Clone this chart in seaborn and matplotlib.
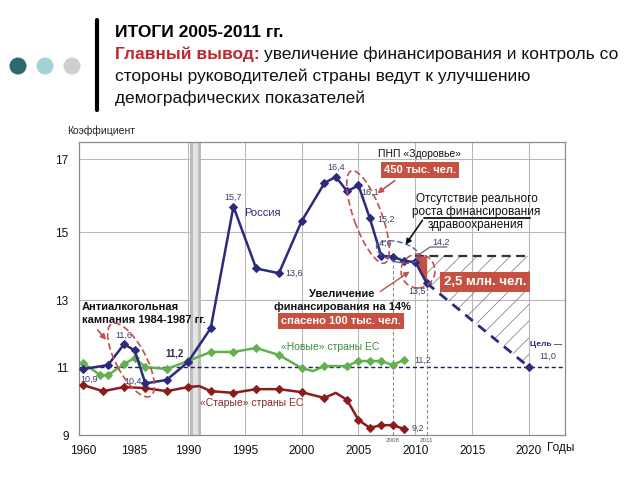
import numpy as np
import pandas as pd
import matplotlib
matplotlib.use("Agg")
import matplotlib.pyplot as plt
import seaborn as sns
from matplotlib.patches import Ellipse, Circle
from matplotlib.lines import Line2D
from matplotlib.transforms import IdentityTransform

# ---------------- data ----------------
russia_years = [1960, 1980, 1984, 1985, 1986, 1988, 1990, 1992, 1994, 1996, 1998,
                2000, 2002, 2003, 2004, 2005, 2006, 2007, 2008, 2009, 2010, 2011]
russia_vals = [10.94, 11.06, 11.68, 11.5, 10.52, 10.62, 11.15, 12.16, 15.7, 13.93, 13.79,
               15.3, 16.34, 16.52, 16.12, 16.28, 15.38, 14.3, 14.28, 14.15, 14.12, 13.5]

new_eu_years = [1960, 1974, 1980, 1984, 1985, 1986, 1988, 1990, 1992, 1994, 1996, 1998,
                2000, 2001, 2002, 2004, 2005, 2006, 2007, 2008, 2009]
new_eu_vals = [11.12, 10.76, 10.76, 11.09, 11.27, 11.0, 10.94, 11.18, 11.45, 11.45, 11.57, 11.36,
               10.97, 10.88, 11.03, 11.03, 11.18, 11.18, 11.18, 11.06, 11.21]

old_eu_years = [1960, 1976, 1984, 1986, 1988, 1990, 1991, 1992, 1994, 1996, 1998, 2000,
                2002, 2003, 2004, 2005, 2006, 2007, 2008, 2009]
old_eu_vals = [10.47, 10.29, 10.41, 10.38, 10.29, 10.41, 10.44, 10.29, 10.24, 10.35, 10.35, 10.26,
               10.09, 10.24, 10.03, 9.44, 9.21, 9.29, 9.29, 9.18]

target_years = [2011, 2020]
target_vals = [13.5, 11.0]
no_growth_level = 14.3
goal_level = 11.0

x_ticks = [1960, 1985, 1990, 1995, 2000, 2005, 2010, 2015, 2020]
y_ticks = [9, 11, 13, 15, 17]
grid_years = [1990, 1995, 2000, 2005, 2010, 2015, 2020]
grid_levels = [13, 15, 17]
ussr_band = (1990.15, 1991.15)
marked_years = [2008, 2011]

# piecewise axis scales of the original chart (compressed early years)
sx_years = [1950, 1960, 1980, 1984, 1990, 2020, 2030]
sx_pos = [-16, 4, 29, 45, 109, 450, 563.7]
sy_vals = [8, 9, 11, 13, 15, 17, 18]
sy_pos = [-34, 0, 68, 135, 203, 276, 312.5]

# ---------------- style ----------------
NAVY = '#2b2a7c'
GREEN = '#63b04f'
DRED = '#8c1c1c'
BOXRED = '#c65041'
ELRED = '#c0504d'
W, H = 640, 480

sns.set_theme(style="white")
plt.rcParams['font.family'] = ['Liberation Sans', 'DejaVu Sans']
plt.rcParams['hatch.linewidth'] = 0.6

fig = plt.figure(figsize=(W / 100, H / 100), dpi=100)
fig.patch.set_facecolor('white')
ax = fig.add_axes([79 / W, 1 - 435 / H, (565 - 79) / W, (435 - 142) / H])
ax.set_facecolor('white')

df_r = pd.DataFrame({'year': russia_years, 'value': russia_vals})
df_n = pd.DataFrame({'year': new_eu_years, 'value': new_eu_vals})
df_o = pd.DataFrame({'year': old_eu_years, 'value': old_eu_vals})
df_t = pd.DataFrame({'year': target_years, 'value': target_vals})

mk_n = [i for i, y in enumerate(new_eu_years) if y != 2001]
mk_o = [i for i, y in enumerate(old_eu_years) if y not in (1991, 2003)]

sns.lineplot(data=df_o, x='year', y='value', ax=ax, color=DRED, linewidth=1.8,
             marker='D', markersize=4.2, markeredgecolor=DRED, markevery=mk_o,
             errorbar=None, legend=False, zorder=5)
sns.lineplot(data=df_n, x='year', y='value', ax=ax, color=GREEN, linewidth=1.8,
             marker='D', markersize=4.2, markeredgecolor=GREEN, markevery=mk_n,
             errorbar=None, legend=False, zorder=5)
sns.lineplot(data=df_t, x='year', y='value', ax=ax, color=NAVY, linewidth=2.0,
             linestyle=(0, (3.5, 2.5)), marker='D', markersize=4.2, markeredgecolor=NAVY,
             markevery=[1], errorbar=None, legend=False, zorder=6)
sns.lineplot(data=df_r, x='year', y='value', ax=ax, color=NAVY, linewidth=1.8,
             marker='D', markersize=4.2, markeredgecolor=NAVY,
             errorbar=None, legend=False, zorder=7)

# scales
ax.set_xscale('function', functions=(lambda v: np.interp(v, sx_years, sx_pos),
                                     lambda p: np.interp(p, sx_pos, sx_years)))
ax.set_yscale('function', functions=(lambda v: np.interp(v, sy_vals, sy_pos),
                                     lambda p: np.interp(p, sy_pos, sy_vals)))
ax.set_xlim(1958, 2023.17)
ax.set_ylim(9, 17.47)
ax.set_xticks(x_ticks)
ax.set_xticklabels([str(t) for t in x_ticks])
ax.set_yticks(y_ticks)
ax.set_yticklabels([str(t) for t in y_ticks])
ax.minorticks_off()
ax.set_xlabel('')
ax.set_ylabel('')
ax.tick_params(axis='x', direction='in', length=4, width=0.8, color='#333333',
               labelsize=8.5, pad=7, labelcolor='#111111')
ax.tick_params(axis='y', direction='inout', length=9, width=0.9, color='#333333',
               labelsize=8.5, pad=3, labelcolor='#111111')
for s in ax.spines.values():
    s.set_color('#8c8c8c')
    s.set_linewidth(0.9)

# grid + reference lines
for gy in grid_years:
    ax.axvline(gy, color='#b8b8b8', lw=0.8, zorder=0)
for gl in grid_levels:
    ax.axhline(gl, color='#b8b8b8', lw=0.8, zorder=0)
ax.axhline(goal_level, color='#1f1f5f', lw=1.0, ls=(0, (3, 2)), zorder=2)
ax.axvspan(*ussr_band, color='#bdbdbd', lw=0, zorder=1)
ax.axvspan(ussr_band[0] + 0.25, ussr_band[1] - 0.3, color='#e4e4e4', lw=0, zorder=1)

# vertical markers 2008 / 2011
r_map = dict(zip(russia_years, russia_vals))
ax.vlines(marked_years, 9, [r_map[y] for y in marked_years], colors='#8a8a8a',
          linestyles=(0, (3, 2)), lw=0.8, zorder=2)
for my in marked_years:
    ax.annotate(str(my), (my, 9), xytext=(0, -6), textcoords='offset pixels',
                ha='center', va='center', fontsize=4.5, color='#555555', annotation_clip=False)

# no-growth line and hatched loss area
ax.hlines(no_growth_level, 2010, 2020, colors='#333333', linestyles=(0, (4, 2.5)), lw=1.6, zorder=4)
hx = [2010, 2011, 2020]
hy = [r_map[2010], r_map[2011], target_vals[1]]
ax.fill_between(hx, [no_growth_level] * 3, hy, facecolor='none', edgecolor='#8a8a8a',
                hatch='//', lw=0, zorder=3)
ax.fill_between([2010, 2011], [r_map[2010], r_map[2011]], no_growth_level,
                color=BOXRED, lw=0, zorder=4)

# value labels
labels = [
    (russia_years, russia_vals, 1994, '15,7', 0, 9, 'center', '#3b3b6b'),
    (russia_years, russia_vals, 2003, '16,4', 0, 9, 'center', '#3b3b6b'),
    (russia_years, russia_vals, 2005, '16,1', 3, -7, 'left', '#3b3b6b'),
    (russia_years, russia_vals, 2006, '15,2', 7, -1, 'left', '#3b3b6b'),
    (russia_years, russia_vals, 2007, '14,6', 2, 13, 'center', '#3b3b6b'),
    (russia_years, russia_vals, 2010, '14,2', 26, 20, 'center', '#3b3b6b'),
    (russia_years, russia_vals, 2011, '13,5', -10, -8, 'center', '#3b3b6b'),
    (russia_years, russia_vals, 1998, '13,6', 6, 0, 'left', '#3b3b6b'),
    (russia_years, russia_vals, 1984, '11,6', 0, 9, 'center', '#3b3b6b'),
    (russia_years, russia_vals, 1986, '10,4', -12, 2, 'center', '#3b3b6b'),
    (russia_years, russia_vals, 1960, '10,9', 6, -10, 'center', '#3b3b6b'),
    (new_eu_years, new_eu_vals, 2009, '11,2', 10, 0, 'left', '#4d4d4d'),
    (old_eu_years, old_eu_vals, 2009, '9,2', 8, 1, 'left', '#4d4d4d'),
    (target_years, target_vals, 2020, '11,0', 19, 11, 'center', '#3b3b6b'),
]
for xs, vs, yr, txt, dx, dy, ha, col in labels:
    v = dict(zip(xs, vs))[yr]
    ax.annotate(txt, (yr, v), xytext=(dx, dy), textcoords='offset pixels', ha=ha,
                va='center', fontsize=6.5, color=col, zorder=9, annotation_clip=False)
ax.annotate('11,2', (1990, r_map[1990]), xytext=(-13, 9), textcoords='offset pixels',
            ha='center', va='center', fontsize=7, color='#2b2a5c', fontweight='bold', zorder=9)
ax.annotate('Цель —', (2020, target_vals[1]), xytext=(17, 23), textcoords='offset pixels',
            ha='center', va='center', fontsize=6, color=NAVY, fontweight='bold', zorder=9,
            annotation_clip=False)


def ftext(x, y, s, **kw):
    kw.setdefault('ha', 'center')
    kw.setdefault('va', 'center')
    return fig.text(x / W, 1 - y / H, s, **kw)


def fline(pts, **kw):
    xs = [p[0] for p in pts]
    ys = [H - p[1] for p in pts]
    fig.add_artist(Line2D(xs, ys, transform=IdentityTransform(), **kw))


def farrow(p0, p1, color, lw=1.2):
    fig.add_artist(matplotlib.patches.FancyArrowPatch(
        (p0[0], H - p0[1]), (p1[0], H - p1[1]), transform=IdentityTransform(),
        arrowstyle='-|>', mutation_scale=8, color=color, lw=lw))


def fell(c, w, h, ang, color, lw=1.2, ls=(0, (4, 2))):
    fig.add_artist(Ellipse((c[0], H - c[1]), w, h, angle=ang, transform=IdentityTransform(),
                           fill=False, ec=color, lw=lw, ls=ls, zorder=8))


# axis captions
ftext(67, 131, 'Коэффициент', ha='left', fontsize=7.5, color='#222222')
ftext(547, 448, 'Годы', ha='left', fontsize=8.5, color='#111111')

# chart annotations
ftext(262, 213, 'Россия', fontsize=8, color=NAVY)
ftext(82, 307, 'Антиалкогольная', ha='left', fontsize=8, fontweight='bold', color='#111111')
ftext(82, 320, 'кампания 1984-1987 гг.', ha='left', fontsize=8, fontweight='bold', color='#111111')
ftext(342, 294, 'Увеличение', fontsize=8, fontweight='bold', color='#111111')
ftext(342, 307, 'финансирования на 14%', fontsize=8, fontweight='bold', color='#111111')
box = dict(boxstyle='square,pad=0.25', fc=BOXRED, ec='none')
ftext(341, 321, 'спасено 100 тыс. чел.', fontsize=8, fontweight='bold', color='white', bbox=box)
ftext(420, 154, 'ПНП «Здоровье»', fontsize=7.5, color='#111111')
ftext(420, 170, '450 тыс. чел.', fontsize=8, fontweight='bold', color='white', bbox=box)
ftext(477, 199, 'Отсутствие реального', fontsize=8.5, color='#111111')
ftext(476, 212, 'роста финансирования', fontsize=8.5, color='#111111')
ftext(476, 225, 'здравоохранения', fontsize=8.5, color='#111111')
ftext(485, 282, '2,5 млн. чел.', fontsize=9.5, fontweight='bold', color='white',
      bbox=dict(boxstyle='square,pad=0.3', fc=BOXRED, ec='none'))
ftext(330, 347, '«Новые» страны ЕС', fontsize=7.5, color='#3c8c3c')
ftext(252, 403, '«Старые» страны ЕС', fontsize=7.5, color='#8b2a2a')

# arrows / leader lines
farrow((96, 328), (108, 342), ELRED)
farrow((397, 179), (375, 195), ELRED)
farrow((378, 293), (412, 270), ELRED, lw=1.0)
fline([(530, 218), (424, 218)], color='#111111', lw=1.3)
farrow((424, 218), (404, 247), '#111111')
fline([(447, 247), (430, 247), (417, 256)], color='#555555', lw=0.8)

# dashed ellipses
fell((131, 360), 82, 30, -62, ELRED)
fell((368, 217), 98, 28, -70, ELRED)
fell((398, 252), 44, 20, -15, '#5a5a9a', lw=1.0)
fell((418, 271), 34, 34, 0, ELRED)

# ---------------- header ----------------
for cx, col in [(18, '#2e6a6c'), (45, '#a2d2d4'), (72, '#cfcfcf')]:
    fig.add_artist(Circle((cx, H - 66), 8.5, transform=IdentityTransform(), color=col, lw=0))
fline([(97, 20), (97, 110)], color='black', lw=3)

ftext(115, 37, 'ИТОГИ 2005-2011 гг.', ha='left', va='baseline', fontsize=12.5,
      fontweight='bold', color='black')
t2 = ftext(115, 59, 'Главный вывод:', ha='left', va='baseline', fontsize=12.5,
           fontweight='bold', color='#c0282d')
renderer = fig.canvas.get_renderer()
bb = t2.get_window_extent(renderer)
ftext(bb.x1 + 4, 59, 'увеличение финансирования и контроль со', ha='left', va='baseline',
      fontsize=12.5, color='#111111')
ftext(115, 81, 'стороны руководителей страны ведут к улучшению', ha='left', va='baseline',
      fontsize=12.5, color='#111111')
ftext(115, 103, 'демографических показателей', ha='left', va='baseline',
      fontsize=12.5, color='#111111')

fig.savefig('out.png', dpi=100)
